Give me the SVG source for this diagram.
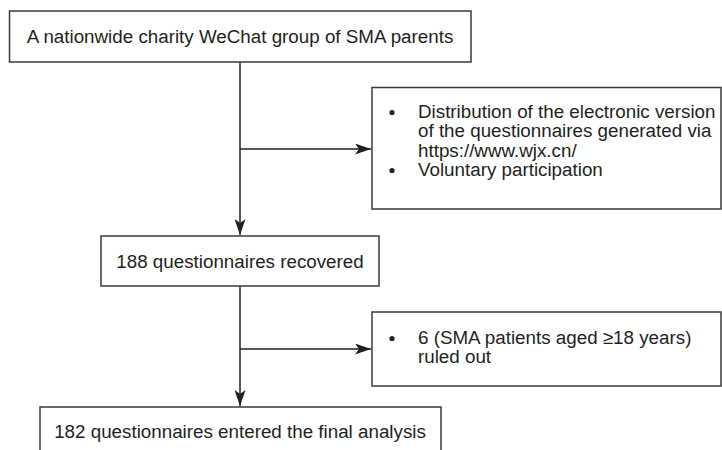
<svg xmlns="http://www.w3.org/2000/svg" width="722" height="450" viewBox="0 0 722 450">
<defs>
<style>
.box{fill:#fff;stroke:#3a3a3a;stroke-width:1.5}
.t{font-family:"Liberation Sans",Arial,sans-serif;font-size:18.8px;fill:#231f20}
.c{text-anchor:middle}
.ln{stroke:#231f20;stroke-width:1.5;fill:none}
</style>
<marker id="ah" viewBox="0 0 16 11" refX="16" refY="5.5" markerWidth="16" markerHeight="11" markerUnits="userSpaceOnUse" orient="auto">
<path d="M0,0 L16,5.5 L0,11 L4,5.5 Z" fill="#231f20"/>
</marker>
</defs>
<rect width="722" height="450" fill="#fff"/>
<g id="connectors">
<path class="ln" d="M240,62 V235" marker-end="url(#ah)"/>
<path class="ln" d="M240,149 H371" marker-end="url(#ah)"/>
<path class="ln" d="M240,286 V406" marker-end="url(#ah)"/>
<path class="ln" d="M240,349 H371" marker-end="url(#ah)"/>
</g>
<g id="n1">
<rect class="box" x="9.5" y="11" width="461.5" height="51"/>
<text class="t c" x="240" y="43">A nationwide charity WeChat group of SMA parents</text>
</g>
<g id="n2">
<rect class="box" x="372" y="87.5" width="349" height="121.5"/>
<circle cx="392" cy="112.5" r="2.6" fill="#231f20"/>
<circle cx="392" cy="170.5" r="2.6" fill="#231f20"/>
<text class="t" x="418" y="118">Distribution of the electronic version</text>
<text class="t" x="418" y="137">of the questionnaires generated via</text>
<text class="t" x="418" y="157">https://www.wjx.cn/</text>
<text class="t" x="418" y="176">Voluntary participation</text>
</g>
<g id="n3">
<rect class="box" x="101" y="236" width="278" height="50"/>
<text class="t c" x="240" y="268">188 questionnaires recovered</text>
</g>
<g id="n4">
<rect class="box" x="372" y="312" width="349" height="74"/>
<circle cx="392" cy="338.5" r="2.6" fill="#231f20"/>
<text class="t" x="418" y="344">6 (SMA patients aged ≥18 years)</text>
<text class="t" x="418" y="363">ruled out</text>
</g>
<g id="n5">
<rect class="box" x="40" y="407" width="401" height="60"/>
<text class="t c" x="240" y="438">182 questionnaires entered the final analysis</text>
</g>
</svg>
